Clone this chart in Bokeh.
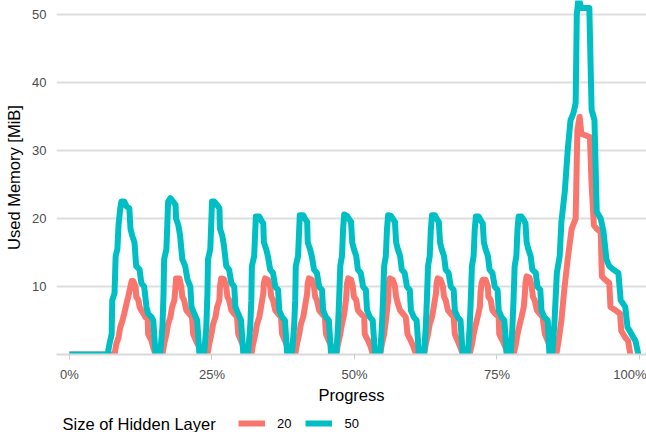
from bokeh.plotting import figure
from bokeh.models import Range1d, FixedTicker, Legend, LegendItem, Label
from bokeh.layouts import column
from bokeh.embed import file_html
from bokeh.resources import INLINE

# ---- data (progress in %, used memory in MiB) ----
progress_20 = [
    0.0, 7.9,
    8.2, 8.6, 8.9, 9.3, 9.6, 10.0, 10.3, 10.7, 10.9, 11.2, 11.6, 11.7, 12.1, 12.3, 12.6, 13.0, 13.3, 13.7, 13.8, 14.4, 14.7, 15.1, 15.9,
    16.3, 16.6, 17.0, 17.3, 17.7, 18.0, 18.4, 18.6, 18.7, 19.3, 19.6, 19.8, 20.1, 20.5, 21.0, 21.5, 21.7, 22.2, 22.8, 23.1, 23.8,
    24.2, 24.5, 24.9, 25.2, 25.6, 25.9, 26.3, 26.4, 26.6, 27.1, 27.5, 27.7, 28.0, 28.4, 28.9, 29.4, 29.6, 30.1, 30.6, 31.0, 31.7,
    31.9, 32.2, 32.6, 32.9, 33.3, 33.6, 34.0, 34.1, 34.3, 34.8, 35.2, 35.4, 35.7, 36.1, 36.6, 37.1, 37.3, 37.8, 38.3, 38.7, 39.4,
    39.6, 39.9, 40.3, 40.6, 41.0, 41.3, 41.7, 41.8, 42.0, 42.5, 42.9, 43.1, 43.4, 43.8, 44.3, 44.8, 45.0, 45.5, 46.1, 46.4,
    46.8, 47.1, 47.5, 47.8, 48.2, 48.5, 48.7, 48.9, 49.4, 49.7, 49.9, 50.3, 50.6, 51.1, 51.7, 51.8, 52.4, 52.9, 53.2, 54.1,
    54.5, 54.8, 55.2, 55.5, 55.9, 56.0, 56.2, 56.7, 57.1, 57.3, 57.6, 58.0, 58.5, 59.0, 59.3, 59.9, 60.4, 60.8, 61.8,
    62.2, 62.5, 62.9, 63.2, 63.6, 63.9, 64.3, 64.4, 64.6, 65.1, 65.5, 65.7, 66.0, 66.4, 66.9, 67.4, 67.6, 68.1, 68.6, 69.0, 69.9,
    70.2, 70.6, 70.9, 71.3, 71.6, 72.0, 72.1, 72.3, 72.5, 73.0, 73.4, 73.5, 73.9, 74.2, 74.7, 75.3, 75.4, 76.0, 76.5, 76.9, 77.6,
    77.9, 78.3, 78.6, 79.0, 79.3, 79.7, 79.9, 80.0, 80.2, 80.7, 81.1, 81.3, 81.6, 82.0, 82.5, 83.0, 83.4, 83.9, 84.4, 84.7, 85.4,
    85.8, 86.3, 86.8, 87.4, 88.1, 88.8, 89.1, 89.5, 89.8, 91.3, 91.6, 92.0, 92.5, 93.2, 93.4, 94.0, 94.7, 94.9, 95.8, 96.6, 96.8,
    97.5, 98.0, 98.4,
]
memory_20 = [
    0, 0,
    1.5, 2.5, 4, 5, 6, 7.5, 8.5, 10, 10.8, 10.8, 10, 8.5, 8, 7, 6.5, 6, 5.5, 5.5, 3, 2, 1, 0, 0,
    0, 1.5, 3, 4.5, 5.5, 7, 8, 10, 11.2, 11.2, 10, 8.5, 8, 6.5, 6, 5.5, 3, 2, 1, 0, 0,
    0, 1.5, 3, 4.5, 5.5, 7, 8, 10, 11.2, 11.1, 10, 8.5, 8, 6.5, 6, 5.5, 3, 2, 1, 0, 0,
    0, 1.5, 3, 4.5, 5.5, 7, 9, 10.5, 11.2, 11, 10, 8.5, 8, 6.5, 6, 5.5, 3, 2, 1, 0, 0,
    0, 1.5, 3, 4.5, 5.5, 7, 9, 10.5, 11.2, 11, 10, 8.5, 8, 6.5, 6, 5.5, 3, 2, 1, 0,
    0, 1.5, 3, 4.5, 6, 8, 10.5, 11.2, 11, 10, 8.5, 8, 6.5, 6, 5.5, 3, 2, 1, 0, 0,
    0, 1.5, 3, 5, 8, 10.5, 11.2, 11, 10, 8.5, 7.5, 6.5, 6, 5.5, 3, 2, 1, 0, 0,
    0, 1.5, 3, 4.5, 5.5, 7, 9, 10.5, 11.2, 11, 10, 8.5, 8, 6.5, 6, 5.5, 3, 2, 1, 0, 0,
    0, 1.5, 3, 4.5, 5.5, 7, 9, 10.5, 11, 11, 10, 8.5, 8, 6.5, 6, 5.5, 3, 2, 1, 0, 0,
    0, 1.5, 3, 4.5, 5.5, 7, 9, 10.5, 11.5, 11.3, 10, 8.5, 8, 6.5, 6, 5.5, 3, 2, 1, 0, 0,
    2, 5, 9.5, 14, 18.5, 20, 33, 35, 32.5, 32, 25, 19, 18.5, 18, 11.5, 11, 10.5, 7, 6.5, 6, 3.5,
    2.5, 2, 0,
]

progress_50 = [
    0.0, 6.7,
    7.0, 7.4, 7.5, 7.9, 8.1, 8.4, 8.6, 8.9, 9.1, 9.6, 10.0, 10.5, 10.7, 11.0, 11.4, 11.7, 12.3, 12.6, 13.1, 13.5, 13.8, 14.4, 14.7, 15.1, 15.6,
    15.9, 16.3, 16.5, 16.6, 17.0, 17.2, 17.3, 17.7, 18.2, 18.6, 18.7, 19.1, 19.4, 19.8, 20.3, 20.7, 21.2, 21.4, 21.9, 22.4, 22.8, 23.3,
    23.6, 24.0, 24.2, 24.3, 24.7, 24.9, 25.0, 25.4, 25.9, 26.3, 26.4, 26.8, 27.1, 27.5, 28.0, 28.4, 28.9, 29.1, 29.6, 30.1, 30.5, 31.0,
    31.3, 31.7, 31.9, 32.0, 32.4, 32.6, 32.7, 33.3, 33.6, 34.0, 34.1, 34.5, 34.8, 35.2, 35.7, 36.1, 36.6, 36.8, 37.3, 37.8, 38.2, 38.7,
    39.0, 39.4, 39.6, 39.7, 40.1, 40.3, 40.4, 41.0, 41.3, 41.7, 41.8, 42.2, 42.5, 42.9, 43.4, 43.8, 44.3, 44.5, 45.0, 45.5, 45.9, 46.4,
    46.8, 47.1, 47.3, 47.5, 47.8, 48.0, 48.2, 48.7, 49.0, 49.4, 49.6, 49.9, 50.3, 50.6, 51.1, 51.5, 52.0, 52.2, 52.7, 53.2, 53.6, 54.1,
    54.5, 54.8, 55.0, 55.2, 55.5, 55.7, 55.9, 56.4, 56.7, 57.1, 57.3, 57.6, 58.0, 58.3, 58.8, 59.2, 59.7, 59.9, 60.4, 60.9, 61.3, 61.8,
    62.2, 62.5, 62.7, 62.9, 63.2, 63.4, 63.6, 64.1, 64.4, 64.8, 65.0, 65.3, 65.7, 66.0, 66.5, 66.9, 67.4, 67.6, 68.1, 68.6, 69.0, 69.5,
    69.9, 70.2, 70.4, 70.6, 70.9, 71.1, 71.3, 71.8, 72.1, 72.5, 72.7, 73.0, 73.4, 73.7, 74.2, 74.6, 75.1, 75.3, 75.8, 76.3, 76.7, 77.2,
    77.4, 77.7, 77.9, 78.1, 78.4, 78.6, 78.8, 79.3, 79.7, 80.0, 80.2, 80.5, 80.9, 81.2, 81.8, 82.1, 82.6, 82.8, 83.3, 83.9, 84.2, 84.7,
    85.1, 85.5, 86.0, 86.3, 86.9, 87.4, 87.9, 88.4, 88.8, 89.0, 89.3, 89.8, 91.2, 91.6, 92.1, 92.5, 93.2, 93.7, 94.2, 94.7, 95.4,
    96.3, 96.7, 97.5, 97.9, 98.6, 99.3, 99.8, 100.0,
]
memory_50 = [
    0, 0,
    1.5, 3, 8, 9, 14.5, 15.5, 19, 21.5, 22.5, 22.5, 21.8, 21.5, 18.5, 17.5, 16.5, 13, 12.5, 10.5, 10, 7, 6, 5.5, 5, 0, 0,
    0, 4, 9, 14, 15.5, 20, 22.5, 23, 22.5, 22, 20, 19, 17.5, 14, 13, 11, 10, 7, 6, 5, 0, 0,
    0, 4, 9, 14, 15.5, 20, 22.5, 22.5, 22, 21.5, 18.5, 17.5, 16, 13, 12.5, 10.5, 10, 7, 6, 5, 0, 0,
    0, 4, 8, 13, 14.5, 18.5, 20.3, 20.3, 19.8, 19.3, 16.5, 15.5, 14.5, 12.5, 12, 10, 9.5, 6.5, 5.5, 5, 0, 0,
    0, 4, 8, 13, 14.5, 18.5, 20.5, 20.5, 20, 19.5, 16.5, 15.5, 14.5, 12.5, 12, 10, 9.5, 6.5, 5.5, 5, 0, 0,
    0, 4, 8, 13, 14.5, 18.5, 20.6, 20.4, 20, 19.5, 16.5, 15.5, 14.5, 12.5, 12, 10, 9.5, 6.5, 5.5, 5, 0, 0,
    0, 4, 8, 13, 14.5, 18.5, 20.5, 20.4, 20, 19.5, 16.5, 15.5, 14.5, 12.5, 12, 10, 9.5, 6.5, 5.5, 5, 0, 0,
    0, 4, 8, 13, 14.5, 18.5, 20.5, 20.5, 20, 19.5, 16.5, 15.5, 14.5, 12.5, 12, 10, 9.5, 6.5, 5.5, 5, 0, 0,
    0, 4, 8, 13, 14.5, 18.5, 20.3, 20.3, 19.8, 19.3, 16.5, 15.5, 14.5, 12.5, 12, 10, 9.5, 6.5, 5.5, 5, 0, 0,
    0, 4, 8, 13, 14.5, 18.5, 20.3, 20.3, 19.8, 19.3, 16.5, 15.5, 14.5, 12.5, 12, 10, 9.5, 6.5, 5.5, 5, 0, 0,
    5, 12, 14.5, 19.5, 24, 30, 34.5, 35.5, 37, 50, 52.5, 51, 51, 36, 34.5, 21, 20, 18, 14, 13, 12.5,
    12, 8, 7, 4, 3, 2, 0, 0,
]

series_labels = ["20", "50"]
series_colors = ["#F8766D", "#00BFC4"]
legend_title = "Size of Hidden Layer"
y_ticks = [10, 20, 30, 40, 50]
x_ticks = [0, 25, 50, 75, 100]
x_tick_labels = ["0%", "25%", "50%", "75%", "100%"]

FONT = "Liberation Sans"
LW = 6

# ---------------- main plot ----------------
p = figure(width=646, height=406, output_backend="svg", toolbar_location=None,
           x_range=Range1d(-2.28, 101.23), y_range=Range1d(0, 52.1),
           min_border_left=56, min_border_right=0, min_border_top=0, min_border_bottom=50)
p.outline_line_color = None
p.background_fill_color = "white"
p.border_fill_color = "white"

r20 = p.line(progress_20, memory_20, line_color=series_colors[0], line_width=LW, line_join="round")
r50 = p.line(progress_50, memory_50, line_color=series_colors[1], line_width=LW, line_join="round")

p.xgrid.visible = False
p.ygrid.ticker = FixedTicker(ticks=y_ticks)
p.ygrid.grid_line_color = "#DEDEDE"
p.ygrid.grid_line_width = 2

p.yaxis.ticker = FixedTicker(ticks=y_ticks)
p.yaxis.axis_line_color = None
p.yaxis.major_tick_line_color = None
p.yaxis.minor_tick_line_color = None
p.yaxis.major_label_text_font = FONT
p.yaxis.major_label_text_font_size = "13px"
p.yaxis.major_label_text_color = "#4D4D4D"
p.yaxis.major_label_standoff = 4
p.yaxis.axis_label = "Used Memory [MiB]"
p.yaxis.axis_label_text_font = FONT
p.yaxis.axis_label_text_font_size = "16.5px"
p.yaxis.axis_label_text_font_style = "normal"
p.yaxis.axis_label_text_color = "#000000"
p.yaxis.axis_label_standoff = 6

p.xaxis.ticker = FixedTicker(ticks=x_ticks)
p.xaxis.major_label_overrides = {t: l for t, l in zip(x_ticks, x_tick_labels)}
p.xaxis.axis_line_color = "#D9D9D9"
p.xaxis.axis_line_width = 2
p.xaxis.major_tick_line_color = "#CCCCCC"
p.xaxis.major_tick_out = 5
p.xaxis.major_tick_in = 0
p.xaxis.minor_tick_line_color = None
p.xaxis.major_label_text_font = FONT
p.xaxis.major_label_text_font_size = "13px"
p.xaxis.major_label_text_color = "#4D4D4D"
p.xaxis.major_label_standoff = 7
p.xaxis.axis_label = "Progress"
p.xaxis.axis_label_text_font = FONT
p.xaxis.axis_label_text_font_size = "16.5px"
p.xaxis.axis_label_text_font_style = "normal"
p.xaxis.axis_label_text_color = "#000000"
p.xaxis.axis_label_standoff = 1

# ---------------- legend strip (ranges mapped 1:1 to page pixels) ----------------
lg = figure(width=646, height=26, output_backend="svg", toolbar_location=None,
            x_range=Range1d(56, 646), y_range=Range1d(0, 26),
            x_axis_type=None, y_axis_type=None,
            min_border_left=56, min_border_right=0, min_border_top=0, min_border_bottom=0)
lg.outline_line_color = None
lg.grid.visible = False
lg.background_fill_color = "white"
lg.border_fill_color = "white"

# hidden copies of the two series: only used to draw the legend swatches
d20 = lg.line(progress_20, memory_20, line_color=series_colors[0], line_width=LW, visible=False)
d50 = lg.line(progress_50, memory_50, line_color=series_colors[1], line_width=LW, visible=False)

lg.add_layout(Label(x=62, y=9, text=legend_title, text_align="left", text_baseline="middle",
                    text_font=FONT, text_font_size="16.5px", text_color="#000000"))

legend = Legend(
    items=[LegendItem(label=series_labels[0], renderers=[d20]),
           LegendItem(label=series_labels[1], renderers=[d50])],
    orientation="horizontal", location=(182, 0),
    border_line_color=None, background_fill_alpha=0,
    inactive_fill_alpha=0,
    margin=0, padding=0, spacing=14, glyph_width=27, glyph_height=18,
    label_standoff=12, label_width=0, label_height=18,
    label_text_font=FONT, label_text_font_size="13px", label_text_color="#000000",
)
lg.add_layout(legend, "center")

layout = column(p, lg, spacing=0)
open("out.html", "w").write(file_html(layout, INLINE))
